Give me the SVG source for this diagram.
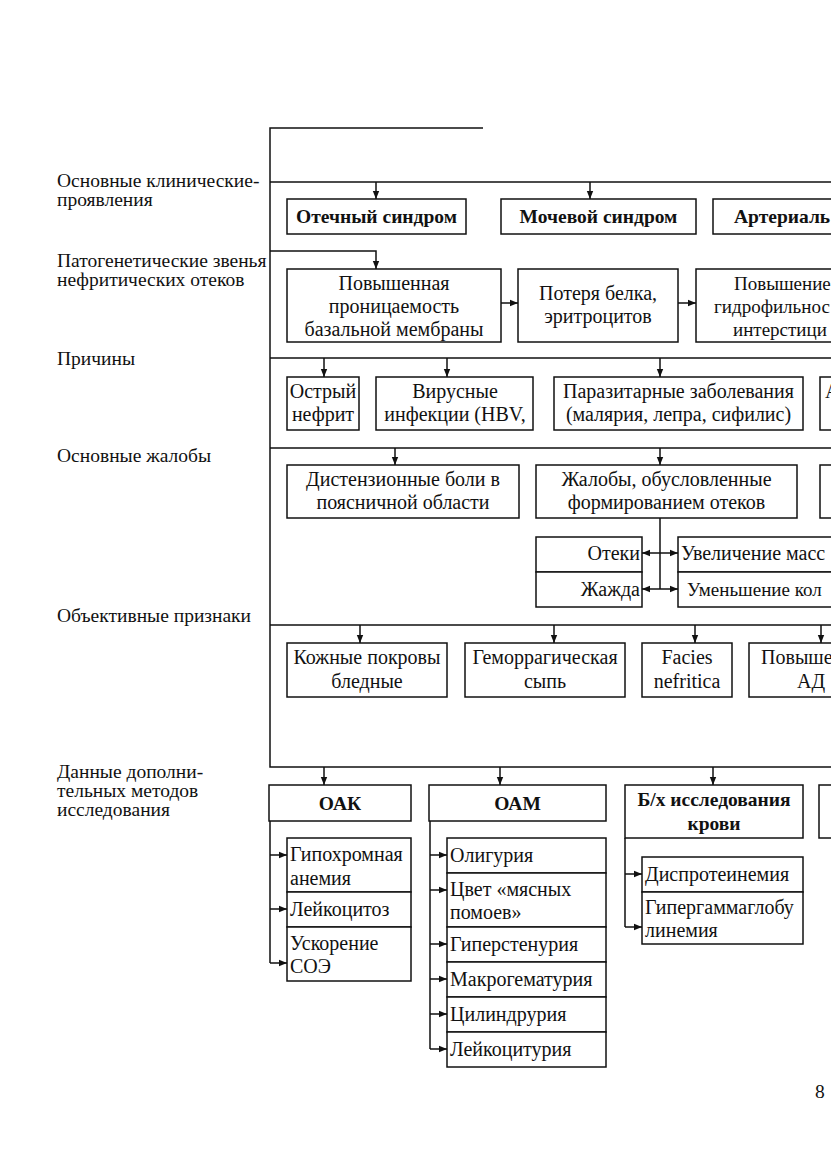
<svg xmlns="http://www.w3.org/2000/svg" width="831" height="1174" viewBox="0 0 831 1174">
<defs>
<marker id="ah" viewBox="0 0 8 8" refX="8" refY="4" markerWidth="8" markerHeight="8" markerUnits="userSpaceOnUse" orient="auto-start-reverse">
<path d="M0,0.8 L8,4 L0,7.2 Z" fill="#111"/>
</marker>
</defs>
<style>
.b{fill:#fff;stroke:#111;stroke-width:1.5}
.l{fill:none;stroke:#111;stroke-width:1.5}
.a{fill:none;stroke:#111;stroke-width:1.5;marker-end:url(#ah)}
.d{fill:none;stroke:#111;stroke-width:1.5;marker-start:url(#ah);marker-end:url(#ah)}
text{font-family:"Liberation Serif","Times New Roman",serif;font-size:20px;fill:#111}
.c{text-anchor:middle}
.r{text-anchor:end}
.bd{font-weight:bold;font-size:19.5px}
.lab{font-size:19.5px}
.s{font-size:19px}
</style>
<rect width="831" height="1174" fill="#fff"/>

<g id="labels">
<text class="lab" x="57" y="187">Основные клинические-</text>
<text class="lab" x="57" y="206">проявления</text>
<text class="lab" x="57" y="267">Патогенетические звенья</text>
<text class="lab" x="57" y="286">нефритических отеков</text>
<text class="lab" x="57" y="365">Причины</text>
<text class="lab" x="57" y="462">Основные жалобы</text>
<text class="lab" x="57" y="622">Объективные признаки</text>
<text class="lab" x="57" y="778">Данные дополни-</text>
<text class="lab" x="57" y="797">тельных методов</text>
<text class="lab" x="57" y="816">исследования</text>
<text class="lab" x="815" y="1098">8</text>
</g>

<g id="connectors">
<path class="l" d="M483,128 H270 V767 H831"/>
<path class="l" d="M270,182 H831 M270,358 H831 M270,448 H831 M270,625 H831"/>
<path class="a" d="M376,182 V199"/>
<path class="a" d="M590,182 V199"/>
<path class="a" d="M270,251 H376 V269"/>
<path class="a" d="M501,303 H518"/>
<path class="a" d="M678,303 H696"/>
<path class="a" d="M324,358 V377"/>
<path class="a" d="M447,358 V377"/>
<path class="a" d="M660,358 V377"/>
<path class="a" d="M395,448 V465"/>
<path class="a" d="M660,448 V465"/>
<path class="l" d="M660,518 V589"/>
<path class="d" d="M642,553 H678"/>
<path class="d" d="M642,589 H678"/>
<path class="a" d="M360,625 V643"/>
<path class="a" d="M554,625 V643"/>
<path class="a" d="M695,625 V643"/>
<path class="a" d="M821,625 V643"/>
<path class="a" d="M324,767 V785"/>
<path class="a" d="M500,767 V785"/>
<path class="a" d="M713,767 V785"/>
<path class="l" d="M270,821 V963 M430,821 V1049 M625,838 V927"/>
<path class="a" d="M270,855 H287"/>
<path class="a" d="M270,909 H287"/>
<path class="a" d="M270,963 H287"/>
<path class="a" d="M430,855 H447"/>
<path class="a" d="M430,890 H447"/>
<path class="a" d="M430,944 H447"/>
<path class="a" d="M430,979 H447"/>
<path class="a" d="M430,1014 H447"/>
<path class="a" d="M430,1049 H447"/>
<path class="a" d="M625,874 H642"/>
<path class="a" d="M625,927 H642"/>
</g>

<g id="row1">
<g id="n-oteki-sindrom"><rect class="b" x="287" y="199" width="179" height="35"/><text class="bd c" x="376.5" y="223">Отечный синдром</text></g>
<g id="n-mochevoy"><rect class="b" x="501" y="199" width="195" height="35"/><text class="bd c" x="598.5" y="223">Мочевой синдром</text></g>
<g id="n-arterial"><rect class="b" x="713" y="199" width="140" height="35"/><text class="bd" x="734" y="223">Артериаль</text></g>
</g>

<g id="row2">
<g id="n-pronits"><rect class="b" x="287" y="269" width="214" height="73"/><text class="c" x="394" y="290">Повышенная</text><text class="c" x="394" y="313">проницаемость</text><text class="c" x="394" y="336">базальной мембраны</text></g>
<g id="n-poterya"><rect class="b" x="518" y="269" width="160" height="73"/><text class="c" x="598" y="300">Потеря белка,</text><text class="c" x="598" y="323">эритроцитов</text></g>
<g id="n-gidrofil"><rect class="b" x="696" y="269" width="160" height="73"/><text class="s" x="734" y="290">Повышение</text><text class="s" x="714" y="313">гидрофильнос</text><text class="s" x="733" y="336">интерстици</text></g>
</g>

<g id="row3">
<g id="n-nefrit"><rect class="b" x="287" y="377" width="72" height="53"/><text class="c" x="323" y="398">Острый</text><text class="c" x="323" y="421">нефрит</text></g>
<g id="n-virus"><rect class="b" x="376" y="377" width="157" height="53"/><text class="c" x="455" y="398">Вирусные</text><text class="c" x="455" y="421">инфекции (HBV,</text></g>
<g id="n-parazit"><rect class="b" x="554" y="377" width="249" height="53"/><text class="c" x="678.5" y="398">Паразитарные заболевания</text><text class="c" x="678.5" y="421">(малярия, лепра, сифилис)</text></g>
<g id="n-cause4"><rect class="b" x="820" y="377" width="30" height="53"/><text x="825" y="398">А</text></g>
</g>

<g id="row4">
<g id="n-disten"><rect class="b" x="287" y="465" width="232" height="53"/><text class="c" x="403" y="486">Дистензионные боли в</text><text class="c" x="403" y="509">поясничной области</text></g>
<g id="n-zhaloby"><rect class="b" x="536" y="465" width="261" height="53"/><text class="c" x="666.5" y="486">Жалобы, обусловленные</text><text class="c" x="666.5" y="509">формированием отеков</text></g>
<g id="n-compl3"><rect class="b" x="820" y="465" width="30" height="53"/></g>
<g id="n-oteki"><rect class="b" x="536" y="537" width="106" height="35"/><text class="r" x="640" y="560">Отеки</text></g>
<g id="n-zhazhda"><rect class="b" x="536" y="572" width="106" height="35"/><text class="r" x="640" y="596">Жажда</text></g>
<g id="n-massa"><rect class="b" x="678" y="537" width="175" height="35"/><text x="681" y="560">Увеличение масс</text></g>
<g id="n-kol"><rect class="b" x="678" y="572" width="175" height="35"/><text class="s" x="687" y="596">Уменьшение кол</text></g>
</g>

<g id="row5">
<g id="n-kozha"><rect class="b" x="287" y="643" width="160" height="54"/><text class="c" x="367" y="664">Кожные покровы</text><text class="c" x="367" y="688">бледные</text></g>
<g id="n-sip"><rect class="b" x="465" y="643" width="160" height="54"/><text class="c" x="545" y="664">Геморрагическая</text><text class="c" x="545" y="688">сыпь</text></g>
<g id="n-facies"><rect class="b" x="642" y="643" width="90" height="54"/><text class="c" x="687" y="664">Facies</text><text class="c" x="687" y="688">nefritica</text></g>
<g id="n-ad"><rect class="b" x="749" y="643" width="110" height="54"/><text x="761" y="664">Повыше</text><text x="797" y="688">АД</text></g>
</g>

<g id="row6">
<g id="n-oak"><rect class="b" x="269" y="785" width="142" height="36"/><text class="bd c" x="340" y="810">ОАК</text></g>
<g id="n-oam"><rect class="b" x="429" y="785" width="177" height="36"/><text class="bd c" x="517.5" y="810">ОАМ</text></g>
<g id="n-bx"><rect class="b" x="625" y="785" width="178" height="53"/><text class="bd c" x="714" y="806">Б/х исследования</text><text class="bd c" x="714" y="830">крови</text></g>
<g id="n-test4"><rect class="b" x="819" y="785" width="40" height="53"/></g>

<g id="n-anemia"><rect class="b" x="287" y="838" width="124" height="54"/><text x="290" y="861">Гипохромная</text><text x="290" y="885">анемия</text></g>
<g id="n-leyk"><rect class="b" x="287" y="892" width="124" height="35"/><text x="290" y="916">Лейкоцитоз</text></g>
<g id="n-soe"><rect class="b" x="287" y="927" width="124" height="54"/><text x="290" y="950">Ускорение</text><text x="290" y="973">СОЭ</text></g>

<g id="n-oligur"><rect class="b" x="447" y="838" width="159" height="35"/><text x="450" y="862">Олигурия</text></g>
<g id="n-cvet"><rect class="b" x="447" y="873" width="159" height="54"/><text x="450" y="896">Цвет «мясных</text><text x="450" y="919">помоев»</text></g>
<g id="n-gipersten"><rect class="b" x="447" y="927" width="159" height="35"/><text x="450" y="951">Гиперстенурия</text></g>
<g id="n-makro"><rect class="b" x="447" y="962" width="159" height="35"/><text x="450" y="986">Макрогематурия</text></g>
<g id="n-cilindr"><rect class="b" x="447" y="997" width="159" height="35"/><text x="450" y="1021">Цилиндрурия</text></g>
<g id="n-leykur"><rect class="b" x="447" y="1032" width="159" height="35"/><text x="450" y="1056">Лейкоцитурия</text></g>

<g id="n-disprot"><rect class="b" x="642" y="857" width="161" height="35"/><text x="645" y="881">Диспротеинемия</text></g>
<g id="n-gipergam"><rect class="b" x="642" y="892" width="161" height="52"/><text x="645" y="914">Гипергаммаглобу</text><text x="645" y="937">линемия</text></g>
</g>
</svg>
